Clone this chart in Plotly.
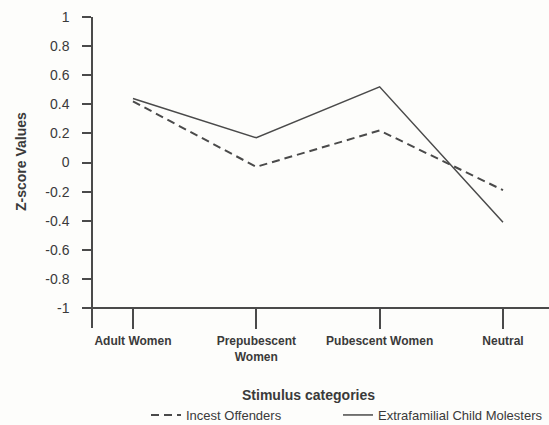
import plotly.graph_objects as go

categories = ["Adult Women", "Prepubescent<br>Women", "Pubescent Women", "Neutral"]
incest_offenders = [0.42, -0.03, 0.22, -0.19]
extrafamilial = [0.44, 0.17, 0.52, -0.41]
y_ticks = [1, 0.8, 0.6, 0.4, 0.2, 0, -0.2, -0.4, -0.6, -0.8, -1]
y_ticktext = ["1", "0.8", "0.6", "0.4", "0.2", "0", "-0.2", "-0.4", "-0.6", "-0.8", "-1"]

W, H = 549, 425
FONT = "Liberation Sans, Arial, sans-serif"
LINE = "#4a4a4a"
TEXT = "#3a3a3a"

fig = go.Figure()
fig.add_trace(go.Scatter(
    x=categories, y=incest_offenders, mode="lines", name="Incest Offenders",
    line=dict(color=LINE, width=2, dash="8px,5px"), legend="legend",
))
fig.add_trace(go.Scatter(
    x=categories, y=extrafamilial, mode="lines", name="Extrafamilial Child Molesters",
    line=dict(color=LINE, width=1.5), legend="legend2",
))

def px_y(p):
    return (H - p) / H

leg_common = dict(
    orientation="h", xanchor="left", y=px_y(415), yanchor="middle",
    font=dict(size=13, family=FONT, color=TEXT),
    bgcolor="rgba(0,0,0,0)",
)

fig.update_layout(
    width=W, height=H,
    margin=dict(l=0, r=0, t=0, b=0, autoexpand=False),
    paper_bgcolor="#fdfdfb", plot_bgcolor="#fdfdfb",
    font=dict(family=FONT, color=TEXT, size=14),
    showlegend=True,
    legend=dict(x=146 / W, **leg_common),
    legend2=dict(x=338 / W, **leg_common),
    xaxis=dict(
        type="category",
        domain=[83 / W, 1],
        range=[-0.405, 3.373],
        anchor="free", position=px_y(308),
        showline=True, linecolor=LINE, linewidth=1.5,
        ticks="outside", ticklen=20, tickcolor=LINE, tickwidth=1.5,
        showgrid=False, zeroline=False, automargin=False,
        tickfont=dict(family=FONT, size=12, color=TEXT, weight="bold"),
        ticklabelstandoff=2,
    ),
    yaxis=dict(
        domain=[px_y(328), px_y(17)],
        range=[-1.1375, 1],
        anchor="free", position=92 / W,
        showline=True, linecolor=LINE, linewidth=1.5,
        ticks="outside", ticklen=9, tickcolor=LINE, tickwidth=1.5,
        tickvals=y_ticks, ticktext=y_ticktext,
        showgrid=False, zeroline=False, automargin=False,
        tickfont=dict(family=FONT, size=14, color=TEXT),
        ticklabelstandoff=10,
    ),
    annotations=[
        dict(text="<b>Stimulus categories</b>", xref="paper", yref="paper",
             x=308 / W, y=px_y(395), xanchor="center", yanchor="middle",
             showarrow=False, font=dict(family=FONT, size=14, color=TEXT)),
        dict(text="<b>Z-score Values</b>", xref="paper", yref="paper",
             x=21 / W, y=px_y(162), xanchor="center", yanchor="middle", textangle=-90,
             showarrow=False, font=dict(family=FONT, size=14, color=TEXT)),
    ],
)

fig.write_html(
    "out.html",
    config={"displayModeBar": False},
    post_script="document.body.style.margin='0';document.body.style.background='#fdfdfb';",
)
